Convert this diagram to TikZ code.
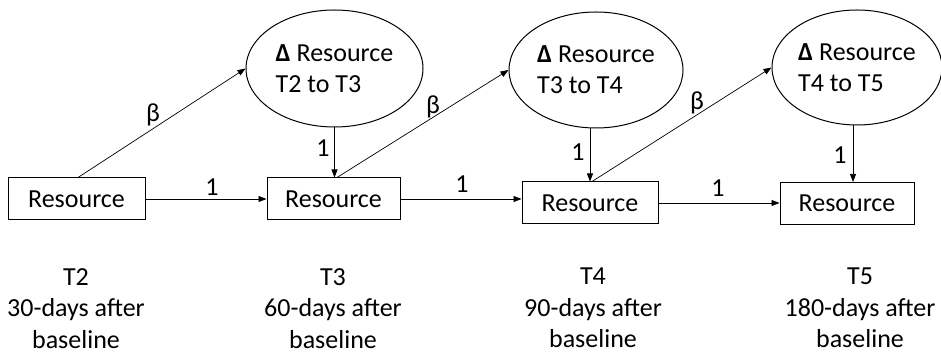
\documentclass[tikz,border=0pt]{standalone}
\usepackage{fontspec}
\setmainfont{Carlito}
\usetikzlibrary{arrows.meta,shapes.geometric,calc}
\begin{document}
\begin{tikzpicture}[x=1pt,y=-1pt,
  txt/.style={font=\fontsize{26}{31}\selectfont},
  box/.style={draw, line width=1pt, minimum width=#1, minimum height=42pt, inner sep=0pt, txt},
  lat/.style={draw, ellipse, line width=1pt, inner sep=0pt, txt, align=left},
  arr/.style={-{Triangle[length=8pt,width=6pt]}, line width=0.7pt},
  lab/.style={txt, inner sep=0pt},
  when/.style={font=\fontsize{26}{31.5}\selectfont, inner sep=0pt, align=center, anchor=north}]
\useasboundingbox (0,0) rectangle (941,352);
% observed boxes
\node[box=137pt] (r1) at (76.5,199) {Resource};
\node[box=133pt] (r2) at (333.5,199) {Resource};
\node[box=136pt] (r3) at (590,203) {Resource};
\node[box=134pt] (r4) at (847,203.5) {Resource};
% latent change ellipses
\node[lat, minimum width=177pt, minimum height=117pt] (e1) at (334.5,68.5) {\textbf{Δ} Resource\\T2 to T3};
\node[lat, minimum width=174pt, minimum height=116pt] (e2) at (596,70) {\textbf{Δ} Resource\\T3 to T4};
\node[lat, minimum width=170pt, minimum height=115pt] (e3) at (857,67.5) {\textbf{Δ} Resource\\T4 to T5};
% horizontal autoregressive paths
\draw[arr] (r1.east) -- (r1.east -| r2.west);
\draw[arr] (r2.east) -- (r2.east -| r3.west);
\draw[arr] (r3.east) -- (r3.east -| r4.west);
% change -> next measure
\draw[arr] (e1.south) -- (e1.south |- r2.north);
\draw[arr] ([xshift=-6pt]e2.south) -- ([xshift=-6pt]e2.south |- r3.north);
\draw[arr] ([xshift=-4pt]e3.south) -- ([xshift=-4pt]e3.south |- r4.north);
% beta paths
\draw[arr] ([xshift=1.5pt]r1.north) -- (e1.west);
\draw[arr] ([xshift=3.5pt]r2.north) -- (e2.west);
\draw[arr] ([xshift=2pt]r3.north) -- (e3.west);
% labels
\node[lab] (b1) at (153,115) {β};
\node[lab] (b2) at (433,107) {β};
\node[lab] (b3) at (697,103) {β};
\node[lab] (h1) at (212,187) {1};
\node[lab] (h2) at (462,184) {1};
\node[lab] (h3) at (718,188) {1};
\node[lab] (v1) at (323,148) {1};
\node[lab] (v2) at (578,152) {1};
\node[lab] (v3) at (840,155) {1};
% time labels
\node[when] (t2) at (76,268) {T2\\30-days after\\baseline};
\node[when] (t3) at (333,268) {T3\\60-days after\\baseline};
\node[when] (t4) at (593,268) {T4\\90-days after\\baseline};
\node[when] (t5) at (860,268) {T5\\180-days after\\baseline};
\end{tikzpicture}
\end{document}
